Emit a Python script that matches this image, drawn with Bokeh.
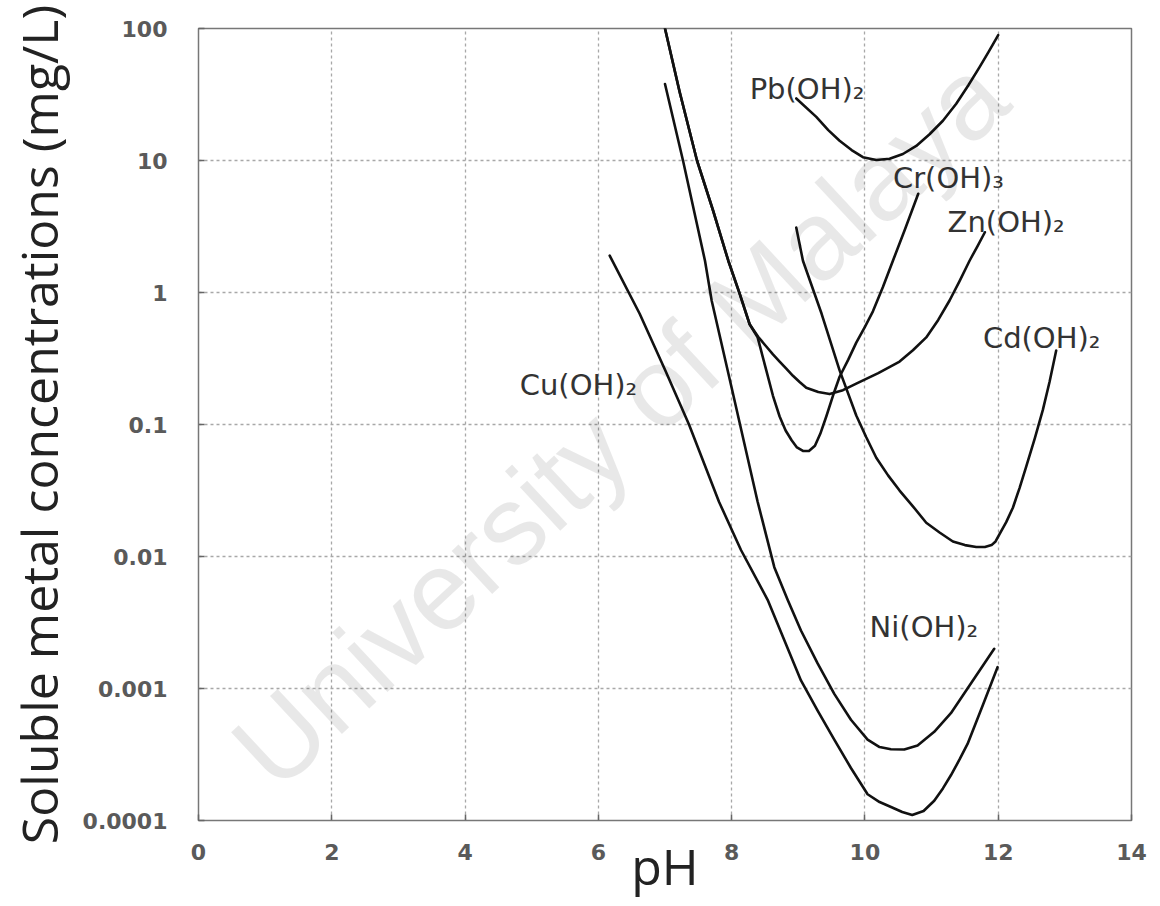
from bokeh.plotting import figure
from bokeh.models import FixedTicker, Label, Range1d
from bokeh.core.properties import value
from bokeh.embed import file_html
from bokeh.resources import INLINE

# Axis ticks
ph_ticks = [0, 2, 4, 6, 8, 10, 12, 14]
conc_ticks = [0.0001, 0.001, 0.01, 0.1, 1, 10, 100]
conc_tick_labels = ["0.0001", "0.001", "0.01", "0.1", "1", "10", "100"]

# Solubility of metal hydroxides: pH vs soluble metal (mg/L)
pb_ph = [8.97, 9.27, 9.45, 9.62, 9.80, 9.97, 10.17, 10.37, 10.57, 10.77,
         10.97, 11.17, 11.37, 11.55, 11.72, 11.86, 12.00]
pb_conc = [29.5, 21.4, 17.0, 14.1, 12.0, 10.6, 10.1, 10.3, 11.2, 12.9,
           15.8, 20.0, 26.9, 37.0, 51, 67, 89]

cr_ph = [7.00, 7.22, 7.48, 7.72, 7.95, 8.12, 8.27, 8.39, 8.52, 8.62, 8.72,
         8.81, 8.90, 8.98, 9.07, 9.16, 9.25, 9.33, 9.42, 9.52, 9.62, 9.75,
         9.87, 10.00, 10.12, 10.27, 10.42, 10.60, 10.80]
cr_conc = [100, 33, 10, 4.2, 1.74, 0.98, 0.575, 0.457, 0.257, 0.165, 0.115,
           0.090, 0.076, 0.067, 0.063, 0.063, 0.069, 0.085, 0.115, 0.165,
           0.23, 0.31, 0.417, 0.55, 0.72, 1.10, 1.74, 3.0, 5.6]

zn_ph = [7.00, 7.22, 7.48, 7.72, 7.95, 8.12, 8.27, 8.40, 8.52, 8.62, 8.72,
         8.82, 8.92, 9.02, 9.12, 9.30, 9.47, 9.67, 9.87, 10.20, 10.52, 10.72,
         10.92, 11.10, 11.27, 11.42, 11.57, 11.69, 11.80]
zn_conc = [100, 33, 10, 4.2, 1.74, 0.98, 0.575, 0.46, 0.39, 0.34, 0.30,
           0.265, 0.234, 0.21, 0.19, 0.176, 0.17, 0.182, 0.204, 0.245, 0.30,
           0.365, 0.457, 0.62, 0.87, 1.22, 1.74, 2.25, 2.86]

cd_ph = [8.97, 9.07, 9.35, 9.62, 9.87, 10.02, 10.17, 10.35, 10.52, 10.72,
         10.92, 11.12, 11.32, 11.50, 11.67, 11.80, 11.90, 11.96, 12.02, 12.12,
         12.22, 12.32, 12.42, 12.55, 12.67, 12.77, 12.87]
cd_conc = [3.1, 1.74, 0.69, 0.257, 0.117, 0.080, 0.056, 0.041, 0.0316, 0.024,
           0.018, 0.0152, 0.013, 0.0122, 0.0118, 0.0118, 0.0122, 0.0130,
           0.0148, 0.0182, 0.0234, 0.033, 0.048, 0.079, 0.129, 0.21, 0.363]

cu_ph = [6.17, 6.62, 7.00, 7.36, 7.81, 8.14, 8.54, 9.04, 9.29, 9.54, 9.79,
         10.04, 10.22, 10.40, 10.56, 10.71, 10.88, 11.04, 11.17, 11.29, 11.42,
         11.54, 11.77, 11.99]
cu_conc = [1.9, 0.69, 0.26, 0.10, 0.026, 0.0112, 0.0047, 0.00115, 0.00068,
           0.00041, 0.00025, 0.000158, 0.000138, 0.000126, 0.000116, 0.00011,
           0.000118, 0.000141, 0.000175, 0.00022, 0.00029, 0.00038, 0.00075,
           0.00145]

ni_ph = [7.00, 7.27, 7.60, 7.70, 8.00, 8.39, 8.64, 8.84, 9.04, 9.29, 9.54,
         9.79, 10.04, 10.22, 10.39, 10.59, 10.79, 11.04, 11.29, 11.62, 11.94]
ni_conc = [38, 10, 1.74, 0.87, 0.19, 0.026, 0.0083, 0.0047, 0.00275, 0.00155,
           0.00091, 0.00058, 0.00041, 0.00036, 0.000347, 0.000345, 0.00037,
           0.00047, 0.00065, 0.00115, 0.0020]

curves = [
    (pb_ph, pb_conc), (cr_ph, cr_conc), (zn_ph, zn_conc),
    (cd_ph, cd_conc), (cu_ph, cu_conc), (ni_ph, ni_conc),
]

# Curve names and where each name sits (pH, mg/L; left edge, vertical centre)
label_names = ["Pb(OH)₂", "Cr(OH)₃", "Zn(OH)₂", "Cd(OH)₂", "Cu(OH)₂", "Ni(OH)₂"]
label_ph = [8.27, 10.42, 11.24, 11.77, 4.82, 10.07]
label_conc = [35, 7.4, 3.4, 0.45, 0.2, 0.0029]

p = figure(
    width=1160, height=906,
    x_range=Range1d(0, 14), y_range=Range1d(1e-4, 100),
    y_axis_type="log",
    output_backend="svg", toolbar_location=None,
    min_border_left=198, min_border_right=29,
    min_border_top=28, min_border_bottom=86,
    background_fill_color="white", border_fill_color="white",
)

p.outline_line_color = "#777777"
p.outline_line_width = 1.5

for ax in (p.xaxis, p.yaxis):
    ax.axis_line_color = None
    ax.major_tick_in = 6
    ax.major_tick_out = 0
    ax.major_tick_line_color = "#666666"
    ax.major_tick_line_width = 1.5
    ax.minor_tick_line_color = None
    ax.major_label_text_font = "DejaVu Sans"
    ax.major_label_text_font_style = "bold"
    ax.major_label_text_font_size = "22px"
    ax.major_label_text_color = "#5a5a5a"
    ax.axis_label_text_font = "Open Sans"
    ax.axis_label_text_font_style = "normal"
    ax.axis_label_text_color = "#222222"

p.xaxis.ticker = FixedTicker(ticks=ph_ticks)
p.yaxis.ticker = FixedTicker(ticks=conc_ticks)
p.yaxis.major_label_overrides = dict(zip(conc_ticks, conc_tick_labels))
p.xaxis.major_label_standoff = 23
p.yaxis.major_label_standoff = 31

p.xaxis.axis_label = "pH"
p.xaxis.axis_label_text_font_size = "50px"
p.xaxis.axis_label_standoff = -31
p.yaxis.axis_label = "Soluble metal concentrations (mg/L)"
p.yaxis.axis_label_text_font_size = "50px"
p.yaxis.axis_label_standoff = 7

p.xgrid.grid_line_color = "#a8a8a8"
p.ygrid.grid_line_color = "#a8a8a8"
p.xgrid.grid_line_dash = "3 3"
p.ygrid.grid_line_dash = "3 3"
p.xgrid.grid_line_width = 1.3
p.ygrid.grid_line_width = 1.3

# Faint diagonal watermark, kept inside the plotting frame
p.add_layout(Label(
    x=6.32, y=0.1035, text="University of Malaya",
    angle=43, angle_units="deg",
    text_font="Liberation Sans", text_font_size="112px",
    text_color="black", text_alpha=0.09,
    text_align="center", text_baseline="middle",
))

for xs, ys in curves:
    p.line(xs, ys, line_color="#111111", line_width=2.6,
           line_join="round", line_cap="round")

p.text(
    x=label_ph, y=label_conc, text=label_names,
    text_font=value("DejaVu Sans"), text_font_size="29px",
    text_color="#333333", text_align="left", text_baseline="middle",
)

open("out.html", "w").write(file_html(p, INLINE))
